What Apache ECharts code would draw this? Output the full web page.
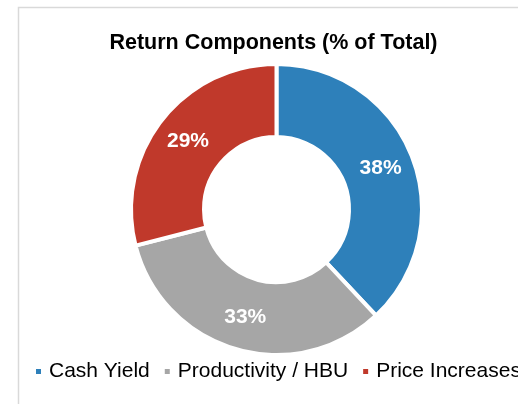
<!DOCTYPE html>
<html>
<head>
<meta charset="utf-8">
<style>
  html, body { margin: 0; padding: 0; background: #ffffff; }
  #chart { width: 518px; height: 404px; }
</style>
<script src="https://cdn.jsdelivr.net/npm/echarts@6/dist/echarts.min.js"></script>
</head>
<body>
<div id="chart"></div>
<script>
// Share of total return by component (percent)
const categories = ['Cash Yield', 'Productivity / HBU', 'Price Increases'];
const shares = [38, 33, 29];
const colors = ['#2E80BA', '#A6A6A6', '#C0392B'];

const chart = echarts.init(document.getElementById('chart'), null, { renderer: 'canvas' });

chart.setOption({
  animation: false,
  backgroundColor: '#ffffff',
  title: {
    text: 'Return Components (% of Total)',
    left: 273.5,
    textAlign: 'center',
    top: 32,
    padding: 0,
    textStyle: {
      fontFamily: 'Liberation Sans, Arial, sans-serif',
      fontSize: 21.5,
      fontWeight: 'bold',
      color: '#000000'
    }
  },
  legend: {
    data: categories,
    orient: 'horizontal',
    left: 34,
    top: 361,
    width: 1000,
    padding: 0,
    icon: 'rect',
    itemWidth: 7,
    itemHeight: 7,
    itemGap: 13,
    selectedMode: false,
    textStyle: {
      fontFamily: 'Liberation Sans, Arial, sans-serif',
      fontSize: 21,
      color: '#000000',
      padding: [0, 0, 0, 2]
    }
  },
  graphic: [{
    type: 'rect',
    silent: true,
    shape: { x: 18.5, y: 7.5, width: 700, height: 600 },
    style: { fill: 'none', stroke: '#d9d9d9', lineWidth: 1.5 }
  }],
  series: [{
    type: 'pie',
    center: [276.5, 209.5],
    radius: [72.5, 145.5],
    startAngle: 90,
    clockwise: true,
    avoidLabelOverlap: false,
    emphasis: { disabled: true },
    itemStyle: { borderColor: '#ffffff', borderWidth: 4 },
    label: {
      show: true,
      position: 'inside',
      formatter: '{c}%',
      color: '#ffffff',
      fontFamily: 'Liberation Sans, Arial, sans-serif',
      fontSize: 21,
      fontWeight: 'bold'
    },
    labelLine: { show: false },
    data: categories.map((name, i) => ({
      name: name,
      value: shares[i],
      itemStyle: { color: colors[i] }
    }))
  }]
});
</script>
</body>
</html>
